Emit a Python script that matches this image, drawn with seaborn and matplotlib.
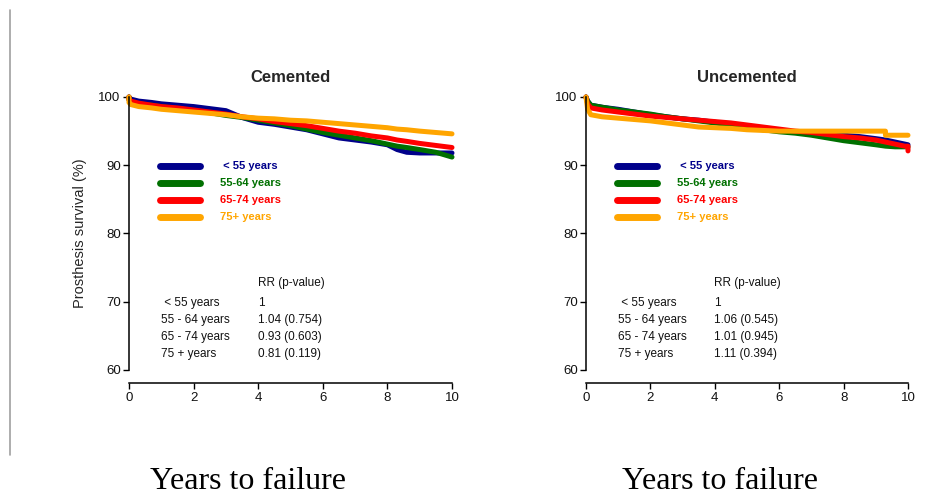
import numpy as np
import pandas as pd
import matplotlib
matplotlib.use("Agg")
import matplotlib.pyplot as plt
from matplotlib.lines import Line2D
import seaborn as sns

# ---------------- data ----------------
groups = ["< 55 years", "55-64 years", "65-74 years", "75+ years"]
colors = ["#00008B", "#007000", "#FF0000", "#FFA500"]

c_time = [0, 0.0, 0.05, 0.3, 0.7, 1.0, 1.5, 2.0, 2.5, 3.0, 3.5, 4.0, 4.5, 5.0, 5.5,
          6.0, 6.5, 7.0, 7.5, 8.0, 8.3, 8.6, 9.0, 9.5, 10.0]
c_lt55 = [100, 99.9, 99.7, 99.4, 99.2, 99.0, 98.8, 98.6, 98.3, 98.0, 97.0, 96.3, 96.0,
          95.6, 95.2, 94.6, 94.0, 93.7, 93.4, 93.0, 92.3, 91.9, 91.8, 91.8, 91.8]
c_55_64 = [100, 99.6, 99.3, 99.0, 98.8, 98.6, 98.3, 98.0, 97.7, 97.3, 97.0, 96.6, 96.2,
           95.8, 95.3, 94.8, 94.4, 94.0, 93.6, 93.1, 92.8, 92.6, 92.3, 91.9, 91.2]
c_65_74 = [100, 99.6, 99.4, 99.1, 98.8, 98.6, 98.4, 98.1, 97.8, 97.5, 97.1, 96.8, 96.4,
           96.1, 95.8, 95.4, 95.0, 94.7, 94.3, 94.0, 93.7, 93.5, 93.2, 92.9, 92.6]
c_75p = [100, 99.2, 98.9, 98.6, 98.4, 98.2, 98.0, 97.8, 97.6, 97.4, 97.1, 96.9, 96.8,
         96.6, 96.5, 96.3, 96.1, 95.9, 95.7, 95.5, 95.3, 95.2, 95.0, 94.8, 94.6]

u_time = [0, 0.05, 0.15, 0.5, 1.0, 1.5, 2.0, 2.5, 3.0, 3.5, 4.0, 4.5, 5.0, 5.5,
          6.0, 6.5, 7.0, 7.5, 8.0, 8.5, 9.0, 9.3, 9.3, 9.6, 9.9, 10.0, 10.0]
u_lt55 = [100, 99.4, 98.8, 98.5, 98.2, 97.8, 97.4, 97.1, 96.8, 96.6, 96.3, 96.0,
          95.7, 95.4, 95.1, 94.9, 94.7, 94.5, 94.4, 94.2, 93.9, 93.7, 93.7, 93.4, 93.1,
          93.0, 93.0]
u_55_64 = [100, 99.4, 98.8, 98.5, 98.1, 97.8, 97.5, 97.1, 96.8, 96.5, 96.2, 95.9,
           95.5, 95.2, 94.9, 94.7, 94.4, 94.0, 93.6, 93.3, 93.0, 92.8, 92.8, 92.7, 92.7,
           92.7, 92.7]
u_65_74 = [100, 99.0, 98.4, 98.1, 97.8, 97.5, 97.2, 97.0, 96.8, 96.6, 96.4, 96.2,
           95.9, 95.6, 95.3, 95.0, 94.8, 94.5, 94.2, 94.0, 93.7, 93.4, 93.4, 93.1, 92.8,
           92.8, 92.1]
u_75p = [100, 98.2, 97.4, 97.1, 96.9, 96.7, 96.5, 96.2, 95.9, 95.6, 95.5, 95.4,
         95.2, 95.1, 95.0, 95.0, 95.0, 95.0, 95.0, 95.0, 95.0, 95.0, 94.4, 94.4, 94.4,
         94.4, 94.4]

rr_labels = [" < 55 years", "55 - 64 years", "65 - 74 years", "75 + years"]
rr_cemented = ["1", "1.04 (0.754)", "0.93 (0.603)", "0.81 (0.119)"]
rr_uncemented = ["1", "1.06 (0.545)", "1.01 (0.945)", "1.11 (0.394)"]

x_ticks = [0, 2, 4, 6, 8, 10]
y_ticks = [60, 70, 80, 90, 100]


def long_df(time, series):
    frames = []
    for g, vals in zip(groups, series):
        frames.append(pd.DataFrame({"time": time, "surv": vals, "group": g}))
    return pd.concat(frames, ignore_index=True)


df_c = long_df(c_time, [c_lt55, c_55_64, c_65_74, c_75p])
df_u = long_df(u_time, [u_lt55, u_55_64, u_65_74, u_75p])

# ---------------- figure ----------------
sns.set_theme(style="ticks")
plt.rcParams["font.family"] = ["Liberation Sans", "DejaVu Sans"]

fig = plt.figure(figsize=(9.46, 4.94), dpi=100)
W, H = 946, 494


def add_axes(x0, x1, ytop, ybot):
    return fig.add_axes([x0 / W, 1 - ybot / H, (x1 - x0) / W, (ybot - ytop) / H])


ax1 = add_axes(129, 452, 97, 370)
ax2 = add_axes(586, 908, 97, 370)

palette = dict(zip(groups, colors))

for ax, df, title, rr in [(ax1, df_c, "Cemented", rr_cemented),
                          (ax2, df_u, "Uncemented", rr_uncemented)]:
    sns.lineplot(data=df, x="time", y="surv", hue="group", palette=palette,
                 hue_order=groups, estimator=None, sort=False,
                 linewidth=3.6, legend=False, ax=ax, clip_on=False)
    ax.set_xlim(0, 10)
    ax.set_ylim(60, 100)
    ax.set_xticks(x_ticks)
    ax.set_yticks(y_ticks)
    ax.set_xlabel("")
    ax.set_ylabel("")
    ax.set_facecolor("none")
    for s in ["top", "right"]:
        ax.spines[s].set_visible(False)
    ax.spines["bottom"].set_position(("outward", 9.5))
    for s in ["left", "bottom"]:
        ax.spines[s].set_color("black")
        ax.spines[s].set_linewidth(1.1)
    ax.tick_params(axis="both", direction="out", length=4, width=1.0,
                   color="black", labelsize=9.5, labelcolor="#111111", pad=2)
    ax.set_title(title, fontsize=12, fontweight="bold", pad=11)

    handles = [Line2D([], [], color=c, lw=5, solid_capstyle="round") for c in colors]
    leg = ax.legend(handles, groups, loc="upper left", bbox_to_anchor=(0.096, 0.764),
                    frameon=False, borderpad=0, borderaxespad=0,
                    handlelength=3.6, handletextpad=1.8, labelspacing=0.63,
                    prop={"weight": "bold", "size": 8})
    for t, c in zip(leg.get_texts(), colors):
        t.set_color(c)
    leg.get_texts()[0].set_text(" " + groups[0])

    ax.text(0.398, 0.320, "RR (p-value)", transform=ax.transAxes, fontsize=8.5,
            va="center", ha="left", color="#111111")
    for lab, val, yy in zip(rr_labels, rr, [0.2465, 0.183, 0.120, 0.0575]):
        ax.text(0.10, yy, lab, transform=ax.transAxes, fontsize=8.5,
                va="center", ha="left", color="#111111")
        ax.text(0.398, yy, val, transform=ax.transAxes, fontsize=8.5,
                va="center", ha="left", color="#111111")

ax1.set_ylabel("Prosthesis survival (%)", fontsize=10.5, labelpad=8)

fig.text(248 / W, 1 - 481 / H, "Years to failure", family="Liberation Serif",
         fontsize=23, ha="center", va="center", color="black")
fig.text(720 / W, 1 - 481 / H, "Years to failure", family="Liberation Serif",
         fontsize=23, ha="center", va="center", color="black")

fig.add_artist(Line2D([10 / W, 10 / W], [1 - 10 / H, 1 - 455 / H],
                      transform=fig.transFigure, color="#a0a0a0", lw=1.2))

fig.savefig("out.png", dpi=100)
